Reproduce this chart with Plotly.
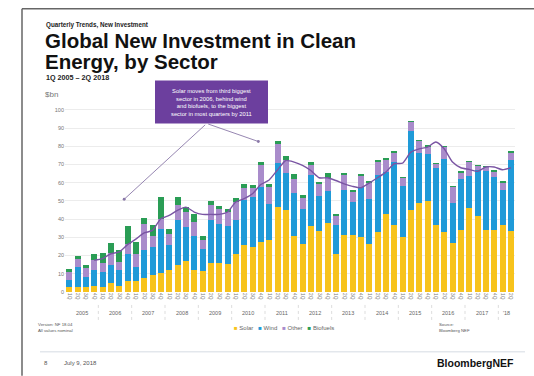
import plotly.graph_objects as go

# ---- data (USD bn, 1Q 2005 - 2Q 2018) ----
years = ["2005", "2006", "2007", "2008", "2009", "2010", "2011", "2012",
         "2013", "2014", "2015", "2016", "2017", "'18"]
quarter_labels = ["1Q", "2Q", "3Q", "4Q"] * 13 + ["1Q", "2Q"]

solar = [2.7, 2.7, 2.7, 3.1, 2.7, 5.1, 3.3, 6.0, 5.9, 7.7, 9.5, 10.4,
         11.9, 15.0, 16.8, 12.2, 11.3, 15.9, 15.9, 15.4, 21.0, 25.6, 24.7, 27.4,
         28.3, 46.6, 45.2, 30.7, 26.5, 36.0, 33.5, 38.0, 20.7, 31.1, 31.1, 30.2,
         26.5, 32.9, 43.0, 36.6, 30.2, 45.2, 48.8, 49.7, 36.9, 32.9, 26.9, 33.8,
         46.1, 41.5, 33.8, 33.8, 36.9, 33.5]
wind = [3.7, 11.0, 5.5, 8.8, 8.2, 9.5, 8.6, 15.0, 7.9, 15.2, 15.2, 24.3,
        13.7, 24.3, 18.8, 18.5, 12.4, 23.4, 21.6, 20.7, 18.3, 24.7, 27.4, 30.5,
        20.1, 24.1, 20.1, 23.6, 19.2, 28.0, 19.0, 17.7, 16.3, 25.0, 18.3, 27.4,
        24.7, 31.1, 22.9, 34.7, 27.8, 43.1, 27.6, 26.1, 31.1, 40.2, 21.9, 28.0,
        17.4, 25.6, 32.4, 29.6, 19.2, 39.1]
other = [4.6, 4.6, 5.1, 5.5, 5.1, 6.8, 4.6, 5.5, 7.3, 14.6, 5.9, 5.5,
         6.0, 8.2, 8.2, 7.7, 4.6, 8.2, 8.2, 7.9, 10.0, 6.9, 5.1, 12.0,
         9.1, 10.6, 6.9, 7.9, 6.0, 5.5, 6.9, 6.9, 5.1, 8.2, 5.9, 5.9,
         8.8, 7.7, 6.8, 5.5, 4.8, 5.3, 6.8, 4.2, 2.7, 6.8, 9.1, 4.0,
         7.9, 2.4, 2.7, 2.9, 4.2, 4.2]
biofuels = [1.8, 1.5, 1.6, 3.7, 5.5, 5.7, 6.4, 10.0, 6.4, 3.1, 6.4, 11.9,
            3.1, 4.6, 3.1, 4.6, 2.2, 2.7, 1.5, 1.8, 2.2, 2.2, 1.6, 1.6,
            1.8, 1.8, 2.4, 2.7, 1.6, 1.8, 0.9, 2.6, 0.9, 0.5, 0.5, 1.5,
            0.9, 0.9, 0.9, 0.3, 0.2, 0.2, 0.2, 0.2, 0.1, 0.2, 0.2, 0.2,
            0.1, 0.2, 0.2, 0.2, 0.9, 0.2]
avg_4q = [None, None, None, 17.4, 18.3, 21.0, 22.0, 26.0, 29.0, 32.4, 33.8, 40.2,
          42.0, 44.8, 46.6, 43.9, 42.6, 42.6, 42.6, 43.9, 49.4, 51.2, 53.9, 59.0,
          61.5, 67.0, 72.2, 71.3, 69.5, 66.7, 62.7, 62.7, 61.2, 59.4, 58.0, 57.2,
          59.8, 62.7, 65.8, 70.4, 70.7, 76.8, 78.6, 79.5, 82.3, 78.6, 71.3, 68.2,
          67.3, 66.2, 68.6, 68.6, 67.1, 68.2]

xs = list(range(len(solar)))

C_SOLAR = "#f7c31c"
C_WIND = "#1f9ad8"
C_OTHER = "#a98ccb"
C_BIO = "#2a9d55"
C_LINE = "#7a55a3"
C_BOX = "#6c3f9e"

W, H = 534, 376
L, R, T, B = 65, 515, 107.5, 292


def PX(x):
    return (x - L) / (R - L)


def PY(y):
    return (B - y) / (B - T)


fig = go.Figure()
for name, vals, col in [("Solar", solar, C_SOLAR), ("Wind", wind, C_WIND),
                        ("Other", other, C_OTHER), ("Biofuels", biofuels, C_BIO)]:
    fig.add_trace(go.Bar(x=xs, y=vals, name=name, marker_color=col,
                         marker_line_width=0, showlegend=False))
fig.add_trace(go.Scatter(x=xs, y=avg_4q, mode="lines",
                         line=dict(color=C_LINE, width=1.4, shape="spline", smoothing=0.6),
                         showlegend=False, connectgaps=False))

FONT = "Arial, Liberation Sans, sans-serif"
ann = []
shapes = []


def text(x, y, s, size, color="#222", bold=False, xanchor="left", yanchor="middle"):
    if bold:
        s = "<b>" + s + "</b>"
    ann.append(dict(x=PX(x), y=PY(y), xref="paper", yref="paper", text=s,
                    showarrow=False, xanchor=xanchor, yanchor=yanchor,
                    font=dict(family=FONT, size=size, color=color)))


text(44, 24, "Quarterly Trends, New Investment", 6.3, "#222", True)
text(43, 40, "Global New Investment in Clean", 20.5, "#111", True)
text(43, 61, "Energy, by Sector", 20.5, "#111", True)
text(44, 77, "1Q 2005 – 2Q 2018", 7.2, "#222", True)
text(43, 94, "$bn", 8, "#777")

# annotation box
shapes.append(dict(type="rect", xref="paper", yref="paper", x0=PX(155), x1=PX(268),
                   y0=PY(123), y1=PY(80), fillcolor=C_BOX, line_width=0, layer="above"))
ann.append(dict(x=PX(211.5), y=PY(101.5), xref="paper", yref="paper",
                text="Solar moves from third biggest<br>sector in 2006, behind wind<br>"
                     "and biofuels, to the biggest<br>sector in most quarters by 2011",
                showarrow=False, align="center", xanchor="center", yanchor="middle",
                font=dict(family=FONT, size=5.8, color="white")))
# arrows (dot heads)
for (ex, ey) in [(6.6, 50.9), (22.7, 82.6)]:
    ann.append(dict(x=ex, y=ey, xref="x", yref="y", ax=16.5, ay=92.5,
                    axref="x", ayref="y", text="", showarrow=True, arrowhead=6,
                    arrowsize=0.8, arrowwidth=0.9, arrowcolor="#8a78a8", standoff=0))

# year labels and separators
for i, yr in enumerate(years):
    xc = 4 * i + (1.5 if i < 13 else 0.5)
    ann.append(dict(x=xc, y=PY(313), xref="x", yref="paper", text=yr, showarrow=False,
                    xanchor="center", yanchor="middle",
                    font=dict(family=FONT, size=5.5, color="#666")))
    if i > 0:
        shapes.append(dict(type="line", xref="x", yref="paper", x0=4 * i - 0.5,
                           x1=4 * i - 0.5, y0=PY(305), y1=PY(321),
                           line=dict(color="#cfcfcf", width=0.7, dash="dot")))

# footer
text(36, 325, "Version: NF 18.04", 4.3, "#555")
text(36, 331, "All values nominal", 4.3, "#555")
text(437, 325, "Source:", 4.3, "#555")
text(437, 331, "Bloomberg NEF", 4.3, "#555")
legend_html = ("<span style='color:%s'>■</span> Solar   <span style='color:%s'>■</span> Wind   "
               "<span style='color:%s'>■</span> Other   <span style='color:%s'>■</span> Biofuels"
               % (C_SOLAR, C_WIND, C_OTHER, C_BIO))
text(232, 328, legend_html, 6, "#666")

shapes.append(dict(type="line", xref="paper", yref="paper", x0=PX(40), x1=PX(525),
                   y0=PY(352), y1=PY(352), line=dict(color="#d5dbe3", width=1)))
text(42, 363, "8", 6, "#555")
text(62, 363, "July 9, 2018", 6, "#555")
text(516, 363, "BloombergNEF", 10.5, "#111", True, xanchor="right")

# slide frame from photo
shapes.append(dict(type="line", xref="paper", yref="paper", x0=PX(22), x1=PX(534),
                   y0=PY(8), y1=PY(8), line=dict(color="#666", width=1.5)))
shapes.append(dict(type="line", xref="paper", yref="paper", x0=PX(22), x1=PX(22),
                   y0=PY(8), y1=PY(376), line=dict(color="#666", width=1.5)))

fig.update_layout(
    width=W, height=H,
    margin=dict(l=L, r=W - R, t=T, b=H - B),
    barmode="stack", bargap=0.28,
    paper_bgcolor="white", plot_bgcolor="white",
    font=dict(family=FONT),
    annotations=ann, shapes=shapes,
    xaxis=dict(range=[-0.5, 53.5], tickmode="array", tickvals=xs, ticktext=quarter_labels,
               tickangle=90, tickfont=dict(size=4.8, color="#777"), showgrid=False,
               zeroline=False, showline=False, ticks=""),
    yaxis=dict(range=[0, 101], tickvals=list(range(0, 101, 10)),
               tickfont=dict(size=5.5, color="#777"), gridcolor="#ececec", gridwidth=0.8,
               zeroline=False, showline=False, ticks=""),
)

fig.write_html("out.html", config={"displayModeBar": False},
               post_script="document.body.style.margin='0';")
